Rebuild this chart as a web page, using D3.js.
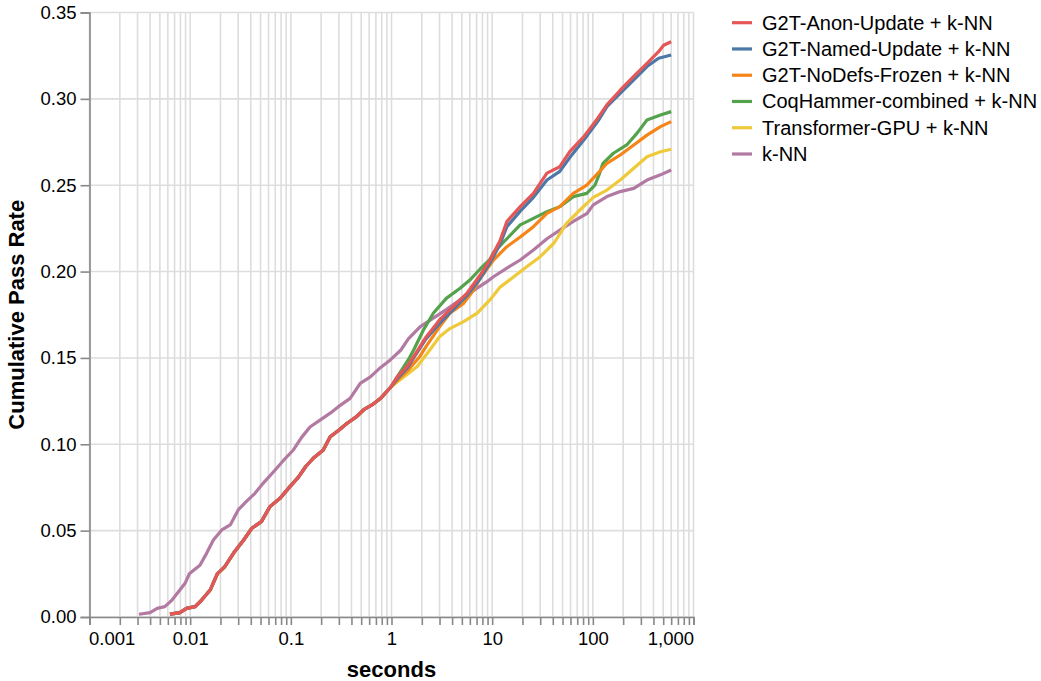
<!DOCTYPE html>
<html>
<head>
<meta charset="utf-8">
<script src="https://cdn.jsdelivr.net/npm/d3@7"></script>
<style>
  html, body { margin: 0; padding: 0; background: #fff; }
  svg { display: block; font-family: "Liberation Sans", Arial, Helvetica, sans-serif; }
</style>
</head>
<body>
<svg id="chart" width="1041" height="681"></svg>
<script>
// ---------- data (seconds, cumulative pass rate) ----------
const seriesNames = [
  "G2T-Anon-Update + k-NN",
  "G2T-Named-Update + k-NN",
  "G2T-NoDefs-Frozen + k-NN",
  "CoqHammer-combined + k-NN",
  "Transformer-GPU + k-NN",
  "k-NN"
];
const seriesColors = ["#e45756", "#4c78a8", "#f58518", "#54a24b", "#eeca3b", "#b279a2"];

// shared early part of all "+ k-NN" combinations (they coincide below ~1 s)
const comboEarly = [
  [0.0063,0.0017],[0.0079,0.0025],[0.0092,0.005],[0.0112,0.006],[0.013,0.0098],
  [0.0158,0.0156],[0.0186,0.025],[0.022,0.029],[0.027,0.037],[0.034,0.0446],
  [0.041,0.0514],[0.051,0.0552],[0.062,0.0639],[0.078,0.0687],[0.098,0.0755],
  [0.119,0.081],[0.14,0.087],[0.167,0.0919],[0.21,0.0967],[0.246,0.1044],
  [0.297,0.108],[0.36,0.112],[0.45,0.116],[0.53,0.120],[0.64,0.1228],
  [0.78,0.1266],[0.98,0.133]
];
const anonLate = [
  [1.14,0.139],[1.47,0.146],[1.66,0.1507],[2.2,0.162],[3.0,0.172],[4.1,0.1797],
  [5.6,0.1874],[7.6,0.198],[9.5,0.2067],[12,0.218],[14,0.229],[19,0.2376],
  [25.7,0.2453],[35,0.257],[47,0.2607],[59,0.2694],[81,0.278],[112,0.2888],
  [138,0.2965],[187,0.305],[255,0.313],[345,0.3206],[450,0.3273],[505,0.331],[600,0.3331]
];
const namedLate = [
  [1.14,0.138],[1.47,0.145],[1.66,0.150],[2.2,0.161],[3.0,0.170],[4.1,0.178],
  [5.6,0.186],[7.6,0.196],[9.5,0.205],[12,0.216],[14,0.226],[19,0.235],
  [25.7,0.243],[35,0.253],[47,0.258],[59,0.266],[81,0.276],[112,0.287],
  [138,0.2955],[187,0.3032],[255,0.311],[345,0.3187],[450,0.3235],[600,0.3254]
];
const noDefsLate = [
  [1.14,0.137],[1.47,0.143],[1.92,0.151],[2.2,0.1565],[3.0,0.168],[3.8,0.1759],
  [5.2,0.1816],[6.5,0.189],[7.6,0.196],[10.3,0.2067],[14,0.2144],[19,0.220],
  [25.7,0.226],[35,0.2337],[47,0.2376],[64,0.2453],[87,0.250],[117,0.258],
  [138,0.2627],[187,0.2675],[255,0.2733],[345,0.279],[470,0.2839],[600,0.2868]
];
const coqLate = [
  [1.14,0.139],[1.47,0.149],[1.66,0.1546],[2.07,0.166],[2.6,0.1759],[3.5,0.1845],
  [4.8,0.1903],[6.0,0.1951],[7.6,0.2015],[9.5,0.207],[10.3,0.211],[14,0.219],
  [19,0.227],[25.7,0.2308],[35,0.2347],[47,0.2376],[64,0.2434],[87,0.2453],
  [105,0.250],[117,0.257],[126,0.2627],[160,0.2685],[217,0.2733],[274,0.280],
  [345,0.2878],[470,0.2907],[600,0.2926]
];
const transformerLate = [
  [1.14,0.136],[1.47,0.141],[1.8,0.145],[2.4,0.1546],[3.0,0.1623],[3.8,0.167],
  [5.2,0.171],[7.1,0.1759],[9.5,0.1836],[12,0.191],[16.4,0.197],[22,0.2028],
  [30,0.2086],[41,0.2164],[55,0.228],[73,0.2352],[101,0.243],[138,0.2472],
  [187,0.253],[255,0.2598],[345,0.2665],[470,0.2694],[600,0.2708]
];
const knn = [
  [0.0031,0.0016],[0.004,0.0025],[0.0047,0.005],[0.0056,0.006],[0.0066,0.0098],
  [0.0079,0.0156],[0.0089,0.0195],[0.0098,0.025],[0.0125,0.030],[0.0146,0.037],
  [0.017,0.0446],[0.0206,0.0504],[0.025,0.0533],[0.03,0.062],[0.036,0.0668],
  [0.044,0.0716],[0.053,0.0774],[0.072,0.086],[0.084,0.0905],[0.106,0.0967],
  [0.128,0.104],[0.155,0.110],[0.195,0.114],[0.246,0.118],[0.297,0.1218],
  [0.388,0.1266],[0.489,0.1353],[0.617,0.139],[0.78,0.1445],[0.98,0.149],
  [1.24,0.1546],[1.47,0.161],[1.92,0.168],[2.6,0.173],[3.5,0.178],[4.8,0.1836],
  [6.5,0.189],[8.8,0.194],[10.3,0.197],[14,0.202],[19,0.2067],[25.7,0.2125],
  [35,0.219],[47,0.224],[64,0.229],[87,0.2335],[101,0.2386],[138,0.2434],
  [187,0.2463],[255,0.2482],[345,0.253],[470,0.256],[600,0.2588]
];
const seriesData = [
  comboEarly.concat(anonLate),
  comboEarly.concat(namedLate),
  comboEarly.concat(noDefsLate),
  comboEarly.concat(coqLate),
  comboEarly.concat(transformerLate),
  knn
];
const yTickValues = [0, 0.05, 0.10, 0.15, 0.20, 0.25, 0.30, 0.35];
const xLabelValues = [0.001, 0.01, 0.1, 1, 10, 100, 1000];

// ---------- layout ----------
const plotLeft = 89.5, plotRight = 693.5, plotTop = 12.5, plotBottom = 617;
const x = d3.scaleLog().domain([0.001, 1000]).range([plotLeft, plotRight]);
const y = d3.scaleLinear().domain([0, 0.35]).range([plotBottom, plotTop]);

const svg = d3.select("#chart");
const grid = svg.append("g");
const xTicks = x.ticks();

grid.selectAll("line.vx").data(xTicks).join("line")
  .attr("x1", d => x(d)).attr("x2", d => x(d))
  .attr("y1", plotTop).attr("y2", plotBottom)
  .attr("stroke", "#dddddd").attr("stroke-width", 1.6);
grid.selectAll("line.hy").data(yTickValues).join("line")
  .attr("x1", plotLeft).attr("x2", plotRight)
  .attr("y1", d => y(d)).attr("y2", d => y(d))
  .attr("stroke", "#dddddd").attr("stroke-width", 1.6);

// ---------- axes ----------
const fmtX = d3.format(",");
const isLabel = d => xLabelValues.some(v => Math.abs(v - d) / v < 1e-9);
const xAxis = d3.axisBottom(x).tickValues(xTicks).tickSize(8).tickPadding(7)
  .tickFormat(d => isLabel(d) ? fmtX(d) : "");
const gx = svg.append("g").attr("transform", `translate(0,${plotBottom})`).call(xAxis);
gx.select(".domain").attr("stroke", "#888").attr("stroke-width", 1.6);
gx.selectAll(".tick line").attr("stroke", "#888").attr("stroke-width", 1.6);
gx.selectAll(".tick text").attr("fill", "#000").attr("font-size", 18.5)
  .attr("font-family", "Liberation Sans, Arial, sans-serif")
  .attr("text-anchor", d => Math.abs(d - 0.001) < 1e-12 ? "start" : (Math.abs(d - 1000) < 1e-6 ? "end" : "middle"))
  .attr("dx", d => Math.abs(d - 0.001) < 1e-12 ? -1 : 0);

const yAxis = d3.axisLeft(y).tickValues(yTickValues).tickSize(9).tickPadding(4)
  .tickFormat(d3.format(".2f"));
const gy = svg.append("g").attr("transform", `translate(${plotLeft},0)`).call(yAxis);
gy.select(".domain").attr("stroke", "#888").attr("stroke-width", 1.6);
gy.selectAll(".tick line").attr("stroke", "#888").attr("stroke-width", 1.6);
gy.selectAll(".tick text").attr("fill", "#000").attr("font-size", 18.5)
  .attr("font-family", "Liberation Sans, Arial, sans-serif");

// axis titles
svg.append("text").attr("x", (plotLeft + plotRight) / 2).attr("y", 677)
  .attr("text-anchor", "middle").attr("font-weight", "bold").attr("font-size", 22)
  .text("seconds");
svg.append("text").attr("transform", `translate(24,${(plotTop + plotBottom) / 2}) rotate(-90)`)
  .attr("text-anchor", "middle").attr("font-weight", "bold").attr("font-size", 22)
  .text("Cumulative Pass Rate");

// ---------- lines ----------
const line = d3.line().x(d => x(d[0])).y(d => y(d[1]));
const drawOrder = [5, 4, 3, 2, 1, 0];
svg.append("g").selectAll("path").data(drawOrder).join("path")
  .attr("d", i => line(seriesData[i]))
  .attr("fill", "none")
  .attr("stroke", i => seriesColors[i])
  .attr("stroke-width", 3.2)
  .attr("stroke-linejoin", "round")
  .attr("stroke-linecap", "butt");

// ---------- legend ----------
const legend = svg.append("g");
const rowY = d3.scalePoint().domain(seriesNames).range([22.7, 154]);
const items = legend.selectAll("g").data(seriesNames).join("g")
  .attr("transform", d => `translate(0,${rowY(d)})`);
items.append("line").attr("x1", 732).attr("x2", 752).attr("y1", 0).attr("y2", 0)
  .attr("stroke", (d, i) => seriesColors[i]).attr("stroke-width", 3.2);
items.append("text").attr("x", 762).attr("y", 0).attr("dy", "0.35em")
  .attr("font-size", 20).attr("fill", "#000").text(d => d);
</script>
</body>
</html>
